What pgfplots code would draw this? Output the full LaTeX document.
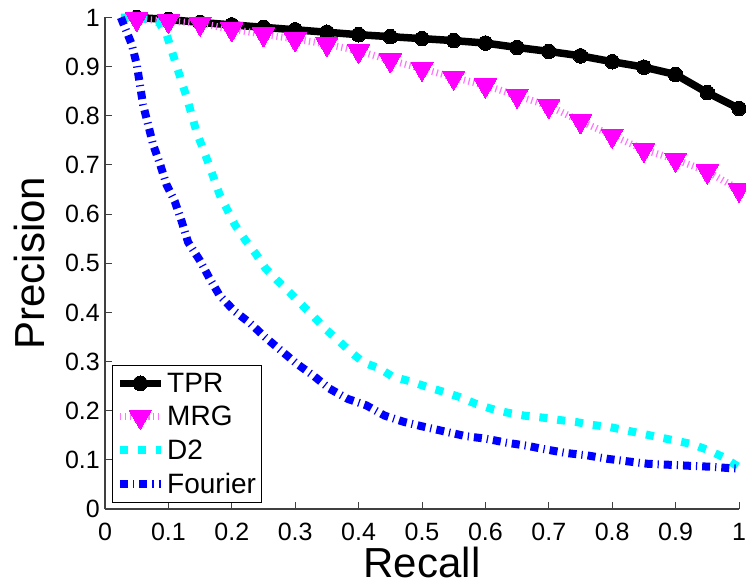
\documentclass[border=0pt]{standalone}
\usepackage{fontspec}
\setmainfont{Liberation Sans}
\usepackage{pgfplots}
\pgfplotsset{compat=1.18}
\definecolor{mmag}{rgb}{1,0,1}
\definecolor{mcyan}{rgb}{0,1,1}
\definecolor{mblue}{rgb}{0,0,1}
\begin{document}
\begin{tikzpicture}
\useasboundingbox (-105pt,-73pt) rectangle (641pt,509pt);
\begin{axis}[
  at={(0,0)}, anchor=south west,
  scale only axis, width=634pt, height=491.5pt,
  xmin=0, xmax=1, ymin=0, ymax=1,
  axis x line*=bottom, axis y line*=left,
  axis line style={black!75, line width=1.2pt},
  tick align=inside, major tick length=7pt,
  tick style={black!75, line width=1pt},
  xtick={0,0.1,...,1.01}, ytick={0,0.1,...,1.01},
  /pgf/number format/assume math mode=true,
  ticklabel style={font=\fontsize{25}{30}\selectfont},
  xticklabel style={anchor=north, inner sep=0pt, yshift=-13.7pt},
  yticklabel style={anchor=east, inner sep=0pt, xshift=-5pt},
  xlabel={Recall}, ylabel={Precision},
  label style={font=\fontsize{42}{48}\selectfont},
  xlabel style={at={(axis description cs:0.5,0)}, anchor=base, yshift=-68pt},
  ylabel style={at={(axis description cs:0,0.5)}, anchor=base, yshift=60pt},
  legend style={at={(axis description cs:0.0106,0.0128)}, anchor=south west,
    draw=black, line width=1pt, fill=white, font=\fontsize{28}{33}\selectfont,
    inner xsep=4pt, inner ysep=5pt, row sep=8.5pt,
    cells={anchor=west}},
  legend image code/.code={\draw[mark repeat=2,mark phase=2,#1] plot coordinates {(0pt,0pt) (20pt,0pt) (41pt,0pt)};},
  clip=false,
]
\addplot[black, line width=7.5pt, mark=*, mark size=7.3pt, mark options={solid, fill=black, line width=0pt}] coordinates {
(0.05,1.0) (0.1,0.996) (0.15,0.99) (0.2,0.985) (0.25,0.98) (0.3,0.975) (0.35,0.97) (0.4,0.965) (0.45,0.961) (0.5,0.957) (0.55,0.953) (0.6,0.948) (0.65,0.939) (0.7,0.931) (0.75,0.922) (0.8,0.91) (0.85,0.899) (0.9,0.884) (0.95,0.847) (1.0,0.815)};
\addlegendentry{TPR}
\addplot[mmag!55, line width=7pt, dash pattern=on 1.2pt off 3.5pt, mark=triangle*, mark size=12.7pt, mark options={solid, rotate=180, fill=mmag, draw=mmag, line width=0pt}] coordinates {
(0.05,0.997) (0.1,0.993) (0.15,0.988) (0.2,0.976) (0.25,0.966) (0.3,0.956) (0.35,0.946) (0.4,0.932) (0.45,0.913) (0.5,0.896) (0.55,0.878) (0.6,0.862) (0.65,0.841) (0.7,0.82) (0.75,0.789) (0.8,0.76) (0.85,0.731) (0.9,0.711) (0.95,0.687) (1.0,0.65)};
\addlegendentry{MRG}
\addplot[mcyan, line width=8pt, dash pattern=on 8pt off 10pt] coordinates {
(0.025,1.0) (0.06,0.998) (0.085,0.99) (0.097,0.966) (0.113,0.901) (0.129,0.837) (0.144,0.769) (0.163,0.704) (0.181,0.639) (0.205,0.578) (0.222,0.546) (0.238,0.519) (0.253,0.49) (0.271,0.466) (0.291,0.441) (0.31,0.416) (0.329,0.392) (0.347,0.367) (0.368,0.343) (0.388,0.319) (0.408,0.298) (0.433,0.286) (0.454,0.269) (0.481,0.26) (0.509,0.248) (0.535,0.238) (0.559,0.228) (0.585,0.214) (0.609,0.204) (0.635,0.196) (0.661,0.19) (0.69,0.186) (0.717,0.181) (0.743,0.177) (0.769,0.171) (0.795,0.167) (0.822,0.16) (0.848,0.153) (0.874,0.146) (0.9,0.139) (0.926,0.132) (0.953,0.119) (0.976,0.105) (1.0,0.085)};
\addlegendentry{D2}
\addplot[mblue, line width=8pt, dash pattern=on 8pt off 5pt on 1.2pt off 5pt] coordinates {
(0.025,1.0) (0.042,0.946) (0.05,0.905) (0.055,0.864) (0.06,0.823) (0.068,0.782) (0.076,0.741) (0.087,0.701) (0.097,0.66) (0.11,0.626) (0.121,0.585) (0.131,0.543) (0.15,0.505) (0.165,0.469) (0.181,0.434) (0.204,0.403) (0.229,0.378) (0.253,0.349) (0.278,0.322) (0.302,0.296) (0.328,0.272) (0.354,0.245) (0.383,0.224) (0.412,0.211) (0.441,0.19) (0.472,0.177) (0.504,0.167) (0.535,0.158) (0.57,0.148) (0.601,0.143) (0.633,0.135) (0.664,0.129) (0.696,0.121) (0.727,0.114) (0.761,0.109) (0.793,0.102) (0.824,0.097) (0.856,0.092) (0.89,0.09) (0.921,0.088) (0.955,0.086) (0.987,0.083) (1.0,0.082)};
\addlegendentry{Fourier}
\end{axis}
\end{tikzpicture}
\end{document}
